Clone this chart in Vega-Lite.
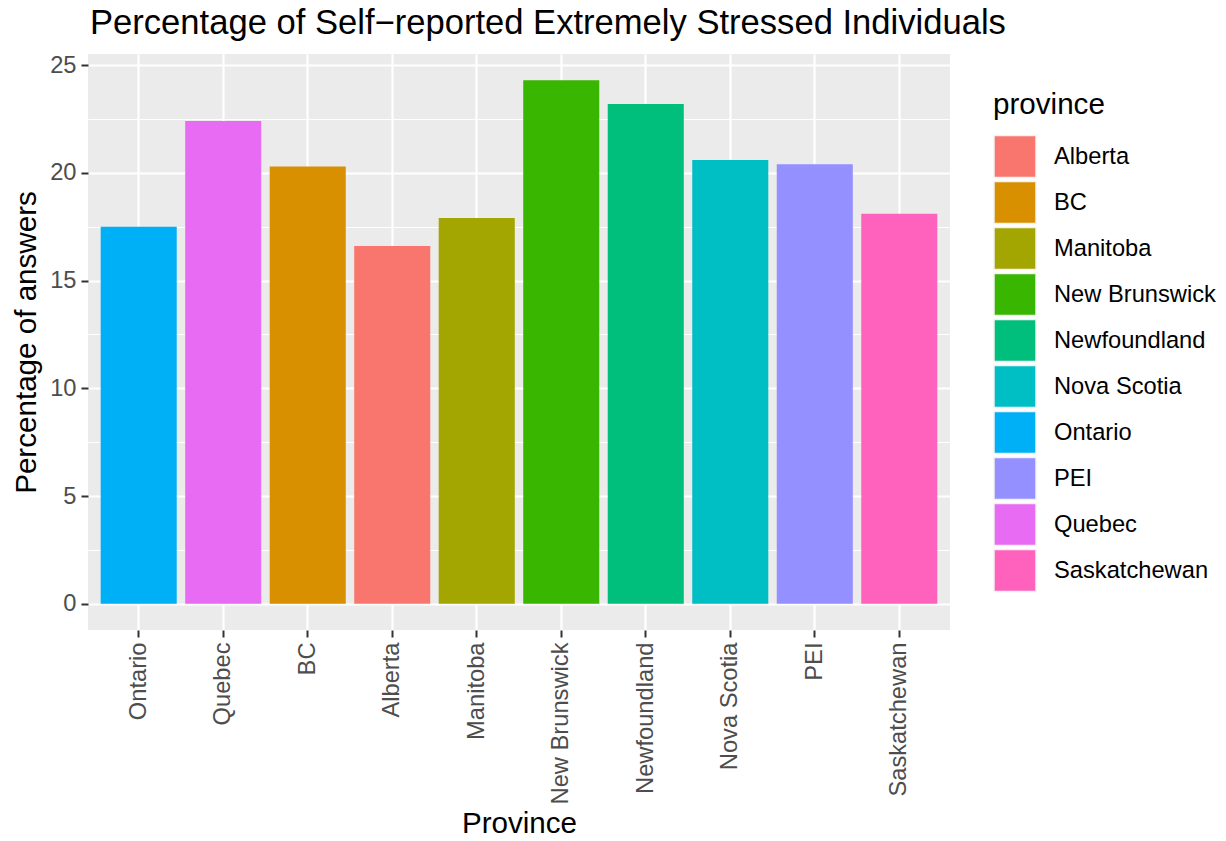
{
  "$schema": "https://vega.github.io/schema/vega-lite/v6.json",
  "autosize": "none",
  "padding": {"left": 88, "top": 54, "right": 276, "bottom": 211},
  "width": 862,
  "height": 576,
  "background": "white",
  "title": {
    "text": "Percentage of Self−reported Extremely Stressed Individuals",
    "anchor": "start",
    "frame": "group",
    "font": "Liberation Sans",
    "fontSize": 34.6,
    "fontWeight": "normal",
    "color": "black",
    "offset": 11,
    "dx": 2
  },
  "config": {
    "view": {"fill": "#EBEBEB", "stroke": null},
    "font": "Liberation Sans",
    "axis": {
      "domain": false,
      "tickColor": "#333333",
      "tickWidth": 2,
      "tickSize": 7,
      "labelColor": "#4D4D4D",
      "labelFont": "Liberation Sans",
      "labelFontSize": 23.7,
      "labelPadding": 5,
      "titleFont": "Liberation Sans",
      "titleFontSize": 29.6,
      "titleFontWeight": "normal",
      "titleColor": "black",
      "gridColor": "white",
      "gridWidth": 2.2,
      "gridOpacity": 1
    }
  },
  "data": {
    "values": [
      {"province": "Ontario", "percent": 17.5},
      {"province": "Quebec", "percent": 22.4},
      {"province": "BC", "percent": 20.3},
      {"province": "Alberta", "percent": 16.6},
      {"province": "Manitoba", "percent": 17.9},
      {"province": "New Brunswick", "percent": 24.3},
      {"province": "Newfoundland", "percent": 23.2},
      {"province": "Nova Scotia", "percent": 20.6},
      {"province": "PEI", "percent": 20.4},
      {"province": "Saskatchewan", "percent": 18.1}
    ]
  },
  "layer": [
    {
      "mark": {"type": "bar", "opacity": 0},
      "encoding": {
        "x": {
          "field": "province",
          "type": "nominal",
          "sort": ["Ontario", "Quebec", "BC", "Alberta", "Manitoba", "New Brunswick", "Newfoundland", "Nova Scotia", "PEI", "Saskatchewan"],
          "scale": {"paddingInner": 0.1, "paddingOuter": 0.15},
          "axis": {
            "title": "Province",
            "labelAngle": -90,
            "labelAlign": "right",
            "labelBaseline": "middle",
            "grid": true,
            "bandPosition": 0.5,
            "titlePadding": 6
          }
        },
        "y": {
          "field": "percent",
          "type": "quantitative",
          "scale": {"domain": [-1.215, 25.515], "nice": false, "zero": false},
          "axis": {
            "orient": "left",
            "values": [2.5, 7.5, 12.5, 17.5, 22.5],
            "grid": true,
            "gridWidth": 1.1,
            "labels": false,
            "ticks": false,
            "title": null
          }
        }
      }
    },
    {
      "mark": {"type": "bar"},
      "encoding": {
        "x": {
          "field": "province",
          "type": "nominal",
          "sort": ["Ontario", "Quebec", "BC", "Alberta", "Manitoba", "New Brunswick", "Newfoundland", "Nova Scotia", "PEI", "Saskatchewan"],
          "scale": {"paddingInner": 0.1, "paddingOuter": 0.15},
          "axis": {
            "title": "Province",
            "labelAngle": -90,
            "labelAlign": "right",
            "labelBaseline": "middle",
            "grid": true,
            "bandPosition": 0.5,
            "titlePadding": 6
          }
        },
        "y": {
          "field": "percent",
          "type": "quantitative",
          "scale": {"domain": [-1.215, 25.515], "nice": false, "zero": false},
          "axis": {
            "orient": "left",
            "values": [0, 5, 10, 15, 20, 25],
            "grid": true,
            "title": "Percentage of answers",
            "titlePadding": 8
          }
        },
        "color": {
          "field": "province",
          "type": "nominal",
          "scale": {
            "domain": ["Alberta", "BC", "Manitoba", "New Brunswick", "Newfoundland", "Nova Scotia", "Ontario", "PEI", "Quebec", "Saskatchewan"],
            "range": ["#F8766D", "#D89000", "#A3A500", "#39B600", "#00BF7D", "#00BFC4", "#00B0F6", "#9590FF", "#E76BF3", "#FF62BC"]
          },
          "legend": {
            "orient": "none",
            "legendX": 905,
            "legendY": 37,
            "title": "province",
            "titleFont": "Liberation Sans",
            "titleFontSize": 29.6,
            "titleFontWeight": "normal",
            "titleColor": "black",
            "titlePadding": 14,
            "labelFont": "Liberation Sans",
            "labelFontSize": 23.7,
            "labelColor": "black",
            "labelOffset": 17,
            "labelLimit": 300,
            "symbolType": "square",
            "symbolSize": 1764,
            "symbolStrokeColor": "#F2F2F2",
            "symbolStrokeWidth": 1.5,
            "symbolOpacity": 1,
            "rowPadding": -2.5,
            "padding": 0
          }
        }
      }
    }
  ],
  "resolve": {"axis": {"y": "independent"}}
}
